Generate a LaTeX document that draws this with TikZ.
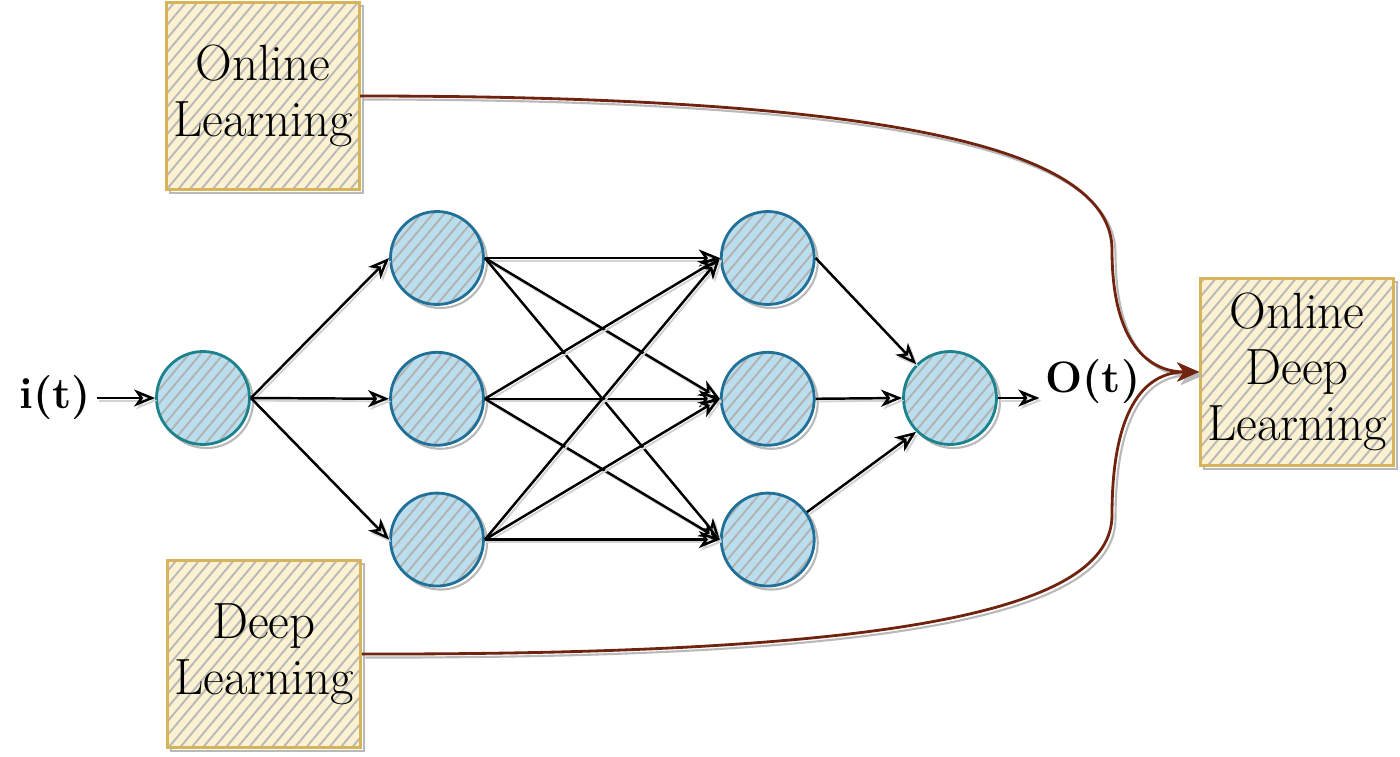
\documentclass[tikz,border=0pt]{standalone}
\usepackage{tikz}
\usetikzlibrary{arrows.meta,positioning,patterns.meta,shadows}
\definecolor{boxgold}{RGB}{214,180,92}
\definecolor{boxfill}{RGB}{252,241,208}
\definecolor{cellblue}{RGB}{32,112,152}
\definecolor{cellteal}{RGB}{28,130,140}
\definecolor{cellfill}{RGB}{186,222,238}
\definecolor{linkbrown}{RGB}{112,36,16}

\begin{document}
\begin{tikzpicture}[x=0.02cm, y=-0.02cm, font=\fontsize{29}{32}\selectfont,
  sketch/.style={general shadow={shadow xshift=2pt, shadow yshift=-2pt, draw=gray!55, line width=1.2pt}},
  neuron/.style={sketch, circle, draw=cellblue, line width=1.6pt, minimum size=1.86cm, inner sep=0pt,
    preaction={fill=cellfill}, pattern={Lines[angle=50, distance=5pt, line width=1.1pt]}, pattern color=gray!60},
  ioneuron/.style={neuron, draw=cellteal},
  topic/.style={sketch, draw=boxgold, line width=1.8pt, align=center, minimum width=3.85cm, minimum height=3.75cm, inner sep=0pt,
    preaction={fill=boxfill}, pattern={Lines[angle=50, distance=5pt, line width=1.1pt]}, pattern color=gray!55},
  signal/.style={font=\fontsize{25}{30}\selectfont\bfseries},
  flow/.style={-{Stealth[open, length=4.2mm, width=3.4mm, inset=1.2mm]}, line width=1.4pt,
    general shadow={shadow xshift=1.2pt, shadow yshift=-1.5pt, draw=gray!35, line width=1.1pt}},
  merge/.style={sketch, -{Stealth[length=4.4mm, width=3.8mm, inset=1.3mm]}, draw=linkbrown, line width=1.6pt}]
\useasboundingbox (0,0) rectangle (1400,757);
\node[topic] (online) at (263,96) {Online\\Learning};
\node[topic] (deep) at (264,654) {Deep\\Learning};
\node[topic] (odl) at (1297,372) {Online\\Deep\\Learning};
\node[signal] (it) at (55,398) {i(t)};
\node[ioneuron] (in) at (203,398) {};
\node[neuron] (ha) at (437,258) {};
\node[neuron, below=0.9cm of ha] (hb) {};
\node[neuron, below=0.9cm of hb] (hc) {};
\node[neuron, right=4.7cm of ha] (ka) {};
\node[neuron, right=4.7cm of hb] (kb) {};
\node[neuron, right=4.7cm of hc] (kc) {};
\node[ioneuron] (out) at (950,398) {};
\node[signal] (ot) at (1093,382) {O(t)};
% input side
\draw[flow] (it) -- (in);
\draw[flow] (in.east) -- (ha.west);
\draw[flow] (in.east) -- (hb.west);
\draw[flow] (in.east) -- (hc.west);
% hidden to hidden
\draw[flow] (ha.east) -- (ka.west);
\draw[flow] (ha.east) -- (kb.west);
\draw[flow] (ha.east) -- (kc.west);
\draw[flow] (hb.east) -- (ka.west);
\draw[flow] (hb.east) -- (kb.west);
\draw[flow] (hb.east) -- (kc.west);
\draw[flow] (hc.east) -- (ka.west);
\draw[flow] (hc.east) -- (kb.west);
\draw[flow] (hc.east) -- (kc.west);
% output side
\draw[flow] (ka.east) -- (out.135);
\draw[flow] (kb.east) -- (out.west);
\draw[flow] (kc.35) -- (out.225);
\draw[flow] (out.east) -- (out.east -| ot.west);
% the two fields meet
\draw[merge] (online.east) .. controls (900,96) and (1112,150) .. (1112,250) .. controls (1112,345) and (1150,372) .. (odl.west);
\draw[merge] (deep.east) .. controls (900,655) and (1112,610) .. (1112,515) .. controls (1112,400) and (1150,372) .. (odl.west);
\end{tikzpicture}
\end{document}
